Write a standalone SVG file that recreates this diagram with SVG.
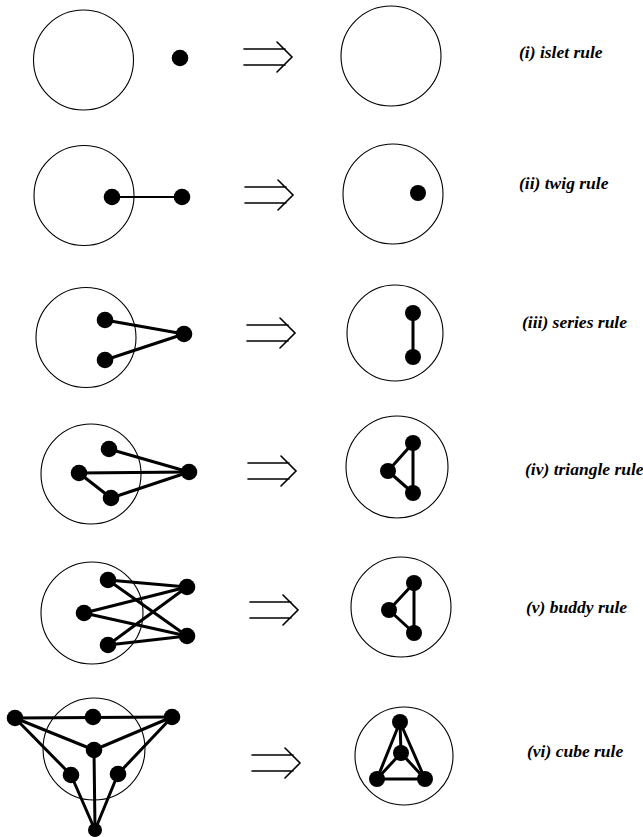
<svg xmlns="http://www.w3.org/2000/svg" width="643" height="837" viewBox="0 0 643 837">
<style>
.ring{fill:none;stroke:#000;stroke-width:1.1}
.dot{fill:#000}
.e{stroke:#000;stroke-width:3;stroke-linecap:round}
.arr{fill:none;stroke:#000;stroke-width:1.6;stroke-linecap:round;stroke-linejoin:miter}
.lbl{font-family:"Liberation Serif","Times New Roman",serif;font-style:italic;font-weight:bold;font-size:17.5px;fill:#000}
</style>
<rect width="643" height="837" fill="#fff"/>
<defs>
<path id="imp" d="M0,-8 H41 M0,8 H41 M33,-15 L48,0 L33,15" class="arr"/>
</defs>

<g id="connectors">
<line class="e" x1="112" y1="197" x2="182" y2="197" style="stroke-width:2"/>
<line class="e" x1="105" y1="320" x2="184" y2="334"/>
<line class="e" x1="105" y1="360" x2="184" y2="334"/>
<line class="e" x1="109" y1="449" x2="189" y2="472"/>
<line class="e" x1="79" y1="473" x2="189" y2="472"/>
<line class="e" x1="111" y1="498" x2="189" y2="472"/>
<line class="e" x1="79" y1="473" x2="111" y2="498"/>
<line class="e" x1="413" y1="313" x2="413" y2="357"/>
<line class="e" x1="413" y1="443" x2="388" y2="471"/>
<line class="e" x1="388" y1="471" x2="413" y2="493"/>
<line class="e" x1="413" y1="443" x2="413" y2="493"/>
<line class="e" x1="108" y1="580" x2="187" y2="587"/>
<line class="e" x1="108" y1="580" x2="187" y2="636"/>
<line class="e" x1="84" y1="613" x2="187" y2="587"/>
<line class="e" x1="84" y1="613" x2="187" y2="636"/>
<line class="e" x1="108" y1="645" x2="187" y2="587"/>
<line class="e" x1="108" y1="645" x2="187" y2="636"/>
<line class="e" x1="414" y1="583" x2="389" y2="610"/>
<line class="e" x1="389" y1="610" x2="414" y2="633"/>
<line class="e" x1="414" y1="583" x2="414" y2="633"/>
<line class="e" x1="15" y1="718" x2="172" y2="717"/>
<line class="e" x1="15" y1="718" x2="94" y2="750"/>
<line class="e" x1="172" y1="717" x2="94" y2="750"/>
<line class="e" x1="15" y1="718" x2="71" y2="775"/>
<line class="e" x1="172" y1="717" x2="118" y2="774"/>
<line class="e" x1="94" y1="750" x2="95" y2="830"/>
<line class="e" x1="71" y1="775" x2="95" y2="830"/>
<line class="e" x1="118" y1="774" x2="95" y2="830"/>
<line class="e" x1="400" y1="722" x2="377" y2="779"/>
<line class="e" x1="400" y1="722" x2="425" y2="779"/>
<line class="e" x1="377" y1="779" x2="425" y2="779"/>
<line class="e" x1="400" y1="722" x2="401" y2="753"/>
<line class="e" x1="401" y1="753" x2="377" y2="779"/>
<line class="e" x1="401" y1="753" x2="425" y2="779"/>
</g>

<!-- Row 1: islet rule -->
<g id="r1-left">
<circle class="ring" cx="83.5" cy="60" r="50"/>
<circle class="dot" cx="180" cy="58" r="8.3"/>
</g>
<use id="r1-arrow" href="#imp" x="244" y="57"/>
<g id="r1-right">
<circle class="ring" cx="391" cy="56" r="50"/>
</g>
<text id="r1-label" class="lbl" x="519" y="58">(i) islet rule</text>

<!-- Row 2: twig rule -->
<g id="r2-left">
<circle class="ring" cx="84" cy="195.5" r="50"/>
<circle class="dot" cx="112" cy="197" r="8.3"/>
<circle class="dot" cx="182" cy="197" r="8.3"/>
</g>
<use id="r2-arrow" href="#imp" x="245" y="195"/>
<g id="r2-right">
<circle class="ring" cx="393" cy="194" r="50"/>
<circle class="dot" cx="418" cy="193" r="8"/>
</g>
<text id="r2-label" class="lbl" x="519" y="189">(ii) twig rule</text>

<!-- Row 3: series rule -->
<g id="r3-left">
<circle class="ring" cx="86" cy="337.5" r="50"/>
<circle class="dot" cx="105" cy="320" r="8.3"/>
<circle class="dot" cx="105" cy="360" r="8.3"/>
<circle class="dot" cx="184" cy="334" r="8.3"/>
</g>
<use id="r3-arrow" href="#imp" x="247" y="333"/>
<g id="r3-right">
<circle class="ring" cx="395" cy="333" r="48"/>
<circle class="dot" cx="413" cy="313" r="8"/>
<circle class="dot" cx="413" cy="357" r="8"/>
</g>
<text id="r3-label" class="lbl" x="522" y="328">(iii) series rule</text>

<!-- Row 4: triangle rule -->
<g id="r4-left">
<circle class="ring" cx="91" cy="474" r="50"/>
<circle class="dot" cx="109" cy="449" r="8.3"/>
<circle class="dot" cx="79" cy="473" r="8.3"/>
<circle class="dot" cx="111" cy="498" r="8.3"/>
<circle class="dot" cx="189" cy="472" r="8.3"/>
</g>
<use id="r4-arrow" href="#imp" x="248" y="471"/>
<g id="r4-right">
<circle class="ring" cx="397" cy="467" r="51"/>
<circle class="dot" cx="413" cy="443" r="8"/>
<circle class="dot" cx="388" cy="471" r="8"/>
<circle class="dot" cx="413" cy="493" r="8"/>
</g>
<text id="r4-label" class="lbl" x="525" y="475">(iv) triangle rule</text>

<!-- Row 5: buddy rule -->
<g id="r5-left">
<circle class="ring" cx="92" cy="613" r="51"/>
<circle class="dot" cx="108" cy="580" r="8.3"/>
<circle class="dot" cx="84" cy="613" r="8.3"/>
<circle class="dot" cx="108" cy="645" r="8.3"/>
<circle class="dot" cx="187" cy="587" r="8.3"/>
<circle class="dot" cx="187" cy="636" r="8.3"/>
</g>
<use id="r5-arrow" href="#imp" x="250" y="610"/>
<g id="r5-right">
<circle class="ring" cx="401" cy="607" r="50"/>
<circle class="dot" cx="414" cy="583" r="8"/>
<circle class="dot" cx="389" cy="610" r="8"/>
<circle class="dot" cx="414" cy="633" r="8"/>
</g>
<text id="r5-label" class="lbl" x="526" y="613">(v) buddy rule</text>

<!-- Row 6: cube rule -->
<g id="r6-left">
<circle class="ring" cx="94" cy="749" r="51"/>
<circle class="dot" cx="15" cy="718" r="8.3"/>
<circle class="dot" cx="93" cy="717" r="8.3"/>
<circle class="dot" cx="172" cy="717" r="8.3"/>
<circle class="dot" cx="94" cy="750" r="8.3"/>
<circle class="dot" cx="71" cy="775" r="8.3"/>
<circle class="dot" cx="118" cy="774" r="8.3"/>
<circle class="dot" cx="95" cy="830" r="7"/>
</g>
<use id="r6-arrow" href="#imp" x="252" y="763"/>
<g id="r6-right">
<circle class="ring" cx="404" cy="756" r="49"/>
<circle class="dot" cx="400" cy="722" r="8"/>
<circle class="dot" cx="401" cy="753" r="8"/>
<circle class="dot" cx="377" cy="779" r="8"/>
<circle class="dot" cx="425" cy="779" r="8"/>
</g>
<text id="r6-label" class="lbl" x="527" y="757">(vi) cube rule</text>
</svg>
